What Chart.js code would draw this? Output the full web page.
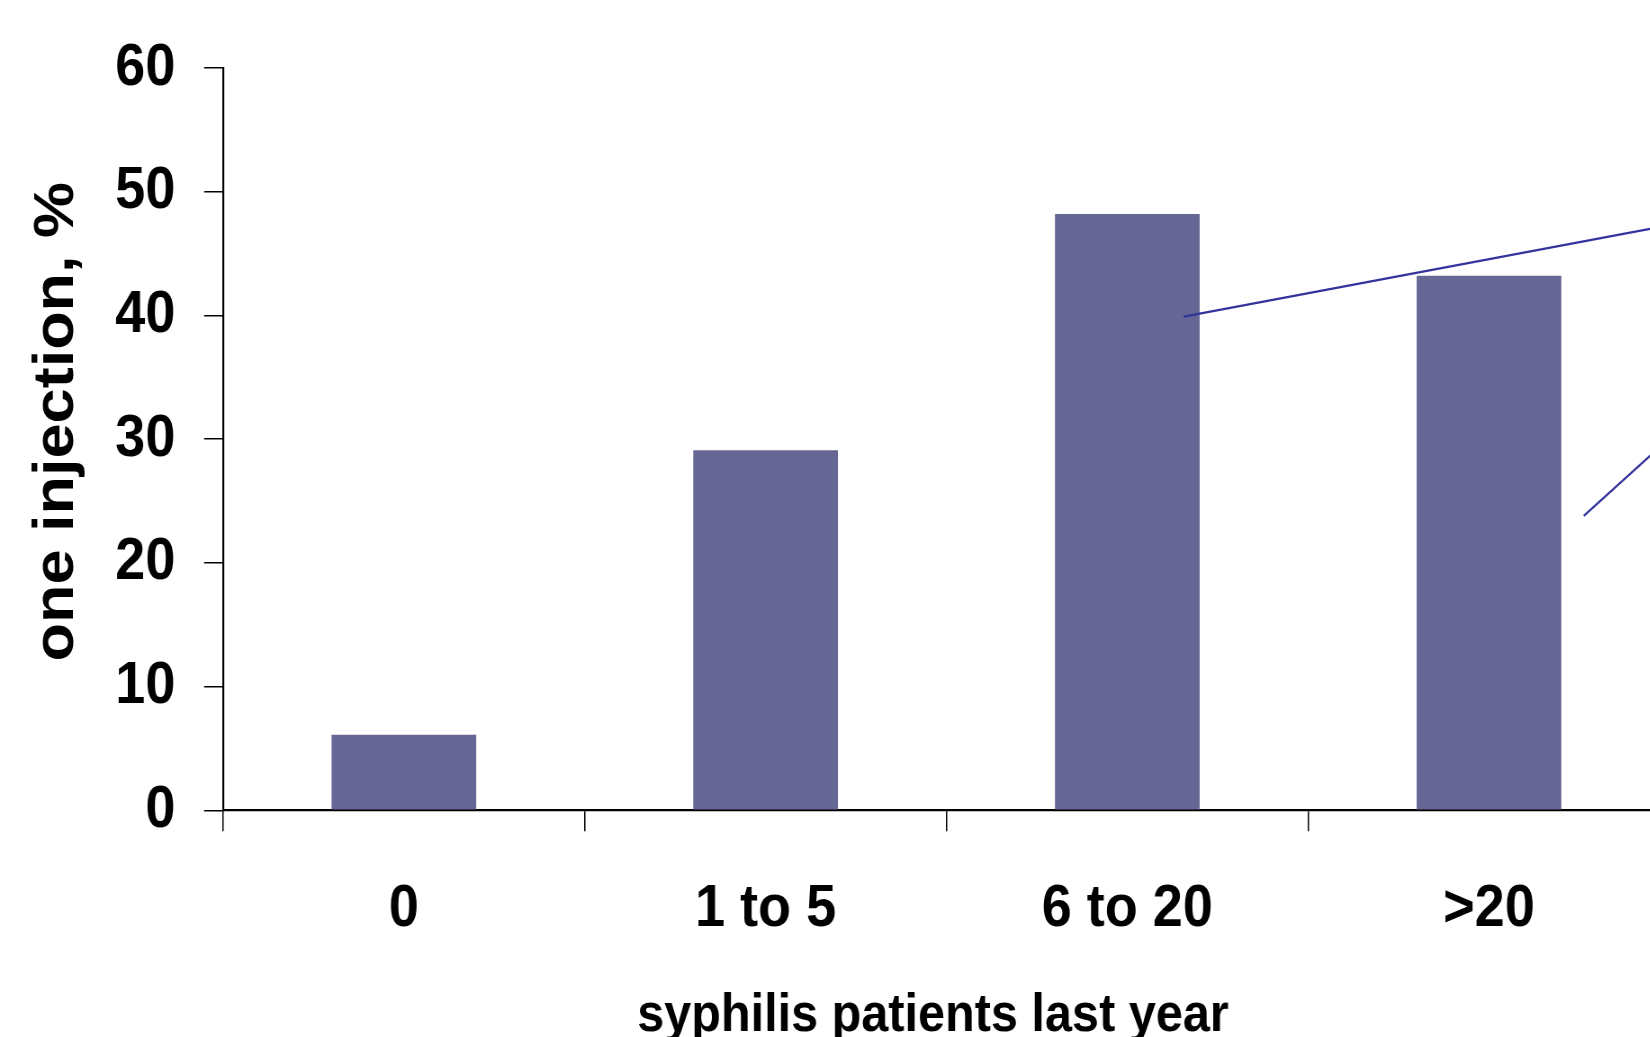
<!DOCTYPE html>
<html>
<head>
<meta charset="utf-8">
<script src="https://cdn.jsdelivr.net/npm/chart.js@4.4.1/dist/chart.umd.min.js"></script>
<style>
  html, body { margin: 0; padding: 0; background: #ffffff; overflow: hidden; width: 1650px; height: 1037px; }
  #wrap { position: absolute; left: 0; top: 0; width: 1900px; height: 1100px; transform: scaleX(0.9); transform-origin: 0 0; }
</style>
</head>
<body>
<div id="wrap"><canvas id="c"></canvas></div>
<script>
// ---- data ----
const categories = ['0', '1 to 5', '6 to 20', '>20'];
const injectionPct = [6.1, 29.1, 48.2, 43.2];
const yTickValues = [0, 10, 20, 30, 40, 50, 60];
const xAxisTitle = 'syphilis patients last year';
const yAxisTitle = 'one injection, %';
// leader (callout) lines, in data space (x = category position, y = %)
const leader1X = [2.156, 3.5];
const leader1Y = [39.9, 47.3];
const leader2X = [3.262, 3.5];
const leader2Y = [23.8, 30.1];

const toPts = (xs, ys) => xs.map((x, i) => ({ x: x, y: ys[i] }));

const FONT = "'Liberation Sans', Arial, sans-serif";

new Chart(document.getElementById('c'), {
  type: 'bar',
  data: {
    labels: categories,
    datasets: [
      {
        data: injectionPct,
        backgroundColor: '#676796',
        borderWidth: 0,
        grouped: false,
        order: 2,
        categoryPercentage: 1.0,
        barPercentage: 0.4,
        xAxisID: 'x',
        yAxisID: 'y'
      },
      {
        type: 'line',
        data: toPts(leader1X, leader1Y),
        xAxisID: 'xl',
        yAxisID: 'y',
        order: 0,
        borderColor: '#33339c',
        borderWidth: 2.2,
        pointRadius: 0,
        fill: false,
        clip: false
      },
      {
        type: 'line',
        data: toPts(leader2X, leader2Y),
        xAxisID: 'xl',
        yAxisID: 'y',
        order: 0,
        borderColor: '#33339c',
        borderWidth: 2.2,
        pointRadius: 0,
        fill: false,
        clip: false
      }
    ]
  },
  options: {
    responsive: true,
    maintainAspectRatio: false,
    animation: false,
    events: [],
    layout: { padding: { left: 0, top: 64.2, right: 44.6, bottom: 0 } },
    plugins: { legend: { display: false }, tooltip: { enabled: false } },
    scales: {
      x: {
        type: 'category',
        offset: true,
        grid: { display: true, drawOnChartArea: false, drawTicks: true, tickLength: 21, color: '#000', lineWidth: 1.5, offset: true },
        border: { display: true, color: '#000', width: 2.2 },
        ticks: { color: '#000', font: { family: FONT, size: 60, weight: 'bold' }, padding: 42, maxRotation: 0, autoSkip: false },
        title: { display: true, text: xAxisTitle + '\u00a0\u00a0', color: '#000', font: { family: FONT, size: 54, weight: 'bold' }, padding: { top: 0, bottom: 51 } },
        afterFit: (s) => { s.height = 289.7; }
      },
      xl: {
        type: 'linear',
        display: false,
        min: -0.5,
        max: 3.5,
        offset: false
      },
      y: {
        type: 'linear',
        min: 0,
        max: 60,
        afterBuildTicks: (s) => { s.ticks = yTickValues.map(v => ({ value: v })); },
        grid: { display: true, drawOnChartArea: false, drawTicks: true, tickLength: 21, color: '#000', lineWidth: 1.5 },
        border: { display: true, color: '#000', width: 2.2 },
        ticks: { color: '#000', font: { family: FONT, size: 60, weight: 'bold' }, padding: 32 },
        title: { display: true, text: '\u00a0\u00a0' + yAxisTitle, color: '#000', font: { family: FONT, size: 63, weight: 'bold' }, padding: { top: 25.7, bottom: 0 } },
        afterFit: (s) => { s.width = 247.8; }
      }
    }
  }
});
</script>
</body>
</html>
